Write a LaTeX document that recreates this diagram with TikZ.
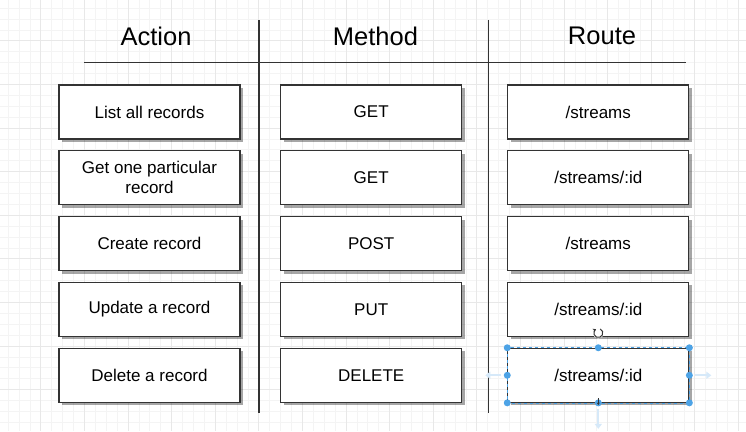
\documentclass[tikz,border=0pt]{standalone}
\usepackage{fontspec}
\setmainfont{Liberation Sans}
\usepackage{xcolor}
\usepackage{tikz}
\usetikzlibrary{positioning,shadows,arrows.meta}

\definecolor{gridminor}{HTML}{F4F4F4}
\definecolor{gridmajor}{HTML}{E8E8E8}
\definecolor{linegray}{HTML}{333333}
\definecolor{selblue}{HTML}{4DA3E6}
\definecolor{arrblue}{HTML}{D6E9F9}

\begin{document}
\begin{tikzpicture}[x=1pt, y=-1pt,
    cell/.style={draw=linegray, line width=1.1pt, fill=white, minimum width=181pt,
        minimum height=54pt, inner sep=0pt, align=center,
        font=\fontsize{17}{20}\selectfont,
        drop shadow={shadow xshift=3pt, shadow yshift=-3pt, opacity=0.35, fill=black}},
    header/.style={font=\fontsize{25.5}{30}\selectfont},
    rule/.style={draw=linegray, line width=1.2pt},
    handle/.style={circle, fill=selblue, inner sep=0pt, minimum size=7pt}]
    \useasboundingbox (0,0) rectangle (746,431);
    \fill[white] (0,0) rectangle (746,431);

    % Background grid
    \foreach \k in {0,...,69} {
        \draw[gridminor, line width=0.6pt] ({-2.9+10.9*\k},0) -- ({-2.9+10.9*\k},431);
    }
    \foreach \k in {0,...,40} {
        \draw[gridminor, line width=0.6pt] (0,{-2.9+10.9*\k}) -- (746,{-2.9+10.9*\k});
    }
    \foreach \k in {0,...,17} {
        \draw[gridmajor, line width=0.7pt] ({-2.9+43.6*\k},0) -- ({-2.9+43.6*\k},431);
    }
    \foreach \k in {0,...,10} {
        \draw[gridmajor, line width=0.7pt] (0,{-2.9+43.6*\k}) -- (746,{-2.9+43.6*\k});
    }

    % Column headers
    \node[header] (action) at (156,36) {Action};
    \node[header] (method) at (375.5,36) {Method};
    \node[header] (route) at (602,36) {Route};

    % Table rules
    \coordinate (hl) at (84,62.7);
    \coordinate (hr) at (686,62.7);
    \coordinate (v1t) at (259,20);
    \coordinate (v1b) at (259,413);
    \coordinate (v2t) at (488.5,20);
    \coordinate (v2b) at (488.5,413);
    \draw[rule] (hl) -- (hr);
    \draw[rule] (v1t) -- (v1b);
    \draw[rule] (v2t) -- (v2b);

    % Action column
    \node[cell] (act1) at (149.5,112) {List all records};
    \node[cell] (act2) at (149.5,177.8) {Get one particular\\record};
    \node[cell] (act3) at (149.5,243.6) {Create record};
    \node[cell] (act4) at (149.5,309.4) {Update a record};
    \node[cell] (act5) at (149.5,375.3) {Delete a record};

    % Method column
    \node[cell] (met1) at (371.2,112) {GET};
    \node[cell] (met2) at (371.2,177.8) {GET};
    \node[cell] (met3) at (371.2,243.6) {POST};
    \node[cell] (met4) at (371.2,309.4) {PUT};
    \node[cell] (met5) at (371.2,375.3) {DELETE};

    % Route column
    \node[cell] (rte1) at (598.3,112) {/streams};
    \node[cell] (rte2) at (598.3,177.8) {/streams/:id};
    \node[cell] (rte3) at (598.3,243.6) {/streams};
    \node[cell] (rte4) at (598.3,309.4) {/streams/:id};
    \node[cell] (rte5) at (598.3,375.3) {/streams/:id};

    % Selection of the last route
    \draw[selblue, dashed, line width=0.7pt] (rte5.north west) rectangle (rte5.south east);
    \draw[arrblue, line width=2pt, -{Triangle[width=7pt,length=5pt]}] ([xshift=-6pt]rte5.west) -- ++(-16,0);
    \draw[arrblue, line width=2pt, -{Triangle[width=7pt,length=5pt]}] ([xshift=6pt]rte5.east) -- ++(16,0);
    \draw[arrblue, line width=2pt, -{Triangle[width=7pt,length=5pt]}] ([yshift=-6pt]rte5.south) -- ++(0,20);
    \foreach \a in {north west,north,north east,west,east,south west,south,south east} {
        \node[handle] at (rte5.\a) {};
    }
    \coordinate (rot) at (598.3,333);
    \fill[white] (rot) circle (5.5);
    \begin{scope}[shift={(rot)}, x=1pt, y=1pt]
        \draw[linegray, line width=1pt, -{Stealth[length=3pt,width=4pt]}]
            (65:4.5) arc (65:-240:4.5);
    \end{scope}
    \draw[linegray, line width=0.9pt, -{Stealth[length=2.5pt,width=3pt]}] (598.3,398) -- (598.3,405);
\end{tikzpicture}
\end{document}
